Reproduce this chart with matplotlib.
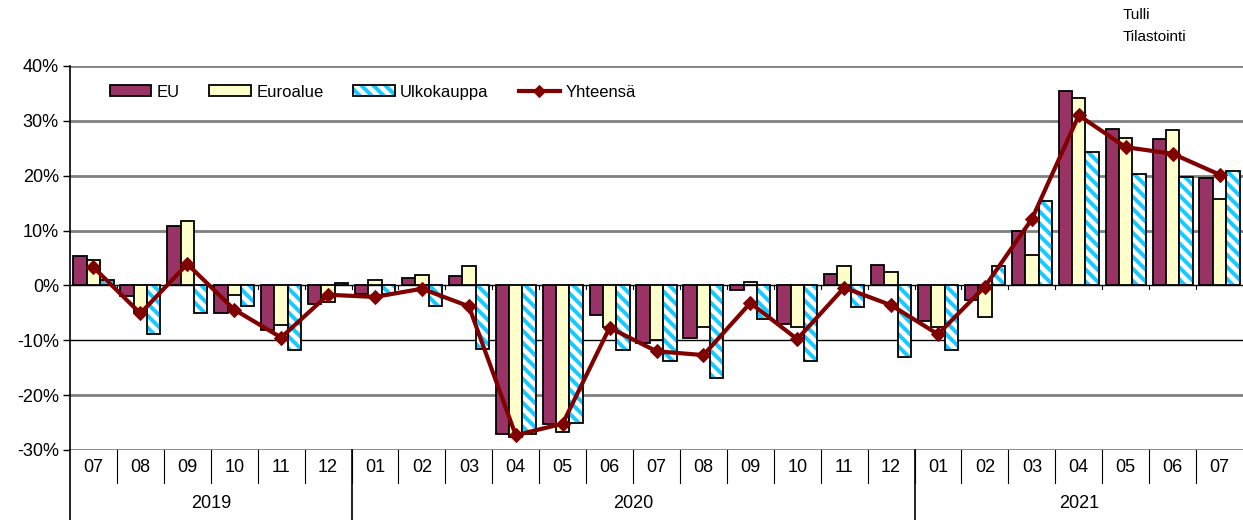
import matplotlib
matplotlib.use("Agg")
import matplotlib.pyplot as plt
import numpy as np
from matplotlib.patches import Patch
from matplotlib.lines import Line2D
from matplotlib.legend_handler import HandlerTuple
import matplotlib.transforms as mtransforms

DPI = 72
S = 100 / DPI  # scale so sizes match a 100-dpi layout

plt.rcParams['font.family'] = ['Liberation Sans', 'DejaVu Sans']
plt.rcParams['hatch.linewidth'] = 4.0

months = ["07", "08", "09", "10", "11", "12",
          "01", "02", "03", "04", "05", "06", "07", "08", "09", "10", "11", "12",
          "01", "02", "03", "04", "05", "06", "07"]
years = ["2019", "2020", "2021"]
year_counts = [6, 12, 7]

eu = [5.3, -1.9, 10.8, -5.0, -8.1, -3.3,
      -1.5, 1.3, 1.7, -27.1, -25.2, -5.3, -10.5, -9.6, -0.9, -7.1, 2.0, 3.8,
      -6.4, -2.6, 10.0, 35.4, 28.6, 26.7, 19.6]
euroalue = [4.7, -5.0, 11.8, -1.7, -7.3, -3.0,
            0.9, 1.9, 3.5, -27.6, -26.7, -7.5, -9.9, -7.6, 0.7, -7.6, 3.5, 2.4,
            -7.5, -5.8, 5.5, 34.1, 26.8, 28.4, 15.8]
ulkokauppa = [0.9, -8.9, -5.0, -3.8, -11.7, 0.4,
              -1.5, -3.8, -11.5, -27.1, -25.1, -11.7, -13.7, -16.8, -6.2, -13.7, -3.9, -13.1,
              -11.8, 3.5, 15.4, 24.4, 20.3, 19.7, 20.8]
yhteensa = [3.3, -5.1, 3.9, -4.4, -9.5, -1.7,
            -2.1, -0.6, -3.8, -27.3, -25.2, -7.7, -12.0, -12.7, -3.2, -9.8, -0.4, -3.6,
            -8.9, -0.2, 12.1, 31.0, 25.2, 24.0, 20.2]

c_eu = '#993366'
c_euro = '#FFFFCC'
c_ulko = '#1EC8FF'
c_line = '#800000'
HATCH = '\\\\'

fig = plt.figure(figsize=(1243 / DPI, 520 / DPI), dpi=DPI)
ax = fig.add_axes([70/1243, 1-450/520, 1173/1243, 384/520])

x = np.arange(len(months))
w = 0.285
blw = 1.3 * S
ax.bar(x - w, eu, w, color=c_eu, edgecolor='black', linewidth=blw, zorder=3)
ax.bar(x, euroalue, w, color=c_euro, edgecolor='black', linewidth=blw, zorder=3)
hb = ax.bar(x + w, ulkokauppa, w, color='white', edgecolor=c_ulko, linewidth=0,
            hatch=HATCH, zorder=3)
for p in hb:
    p._hatch_color = matplotlib.colors.to_rgba(c_ulko)
ax.bar(x + w, ulkokauppa, w, fill=False, edgecolor='black', linewidth=blw, zorder=3.1)

ax.plot(x, yhteensa, color=c_line, linewidth=3 * S, marker='D', markersize=7 * S,
        zorder=5)

ax.set_xlim(-0.5, len(months) - 0.5)
ax.set_ylim(-30, 40)
ax.set_yticks(np.arange(-30, 41, 10))
ax.set_yticklabels([f"{v}%" for v in range(-30, 41, 10)], fontsize=13 * S)
ax.tick_params(axis='y', direction='out', length=5 * S, width=1 * S, pad=3 * S)
ax.set_xticks([])

for v in range(-30, 41, 10):
    if v == 0:
        ax.axhline(v, color='black', linewidth=1 * S, zorder=2)
    elif v == -10:
        ax.axhline(v, color='black', linewidth=1 * S, zorder=1)
    else:
        ax.axhline(v, color='#808080', linewidth=2 * S, zorder=1)

for s in ['top', 'right', 'bottom']:
    ax.spines[s].set_visible(False)
ax.spines['left'].set_linewidth(1.2 * S)

# small tick marks on zero line
for b in np.arange(0.5, len(months) - 1, 1.0):
    ax.plot([b, b], [0, -0.6], color='black', linewidth=0.8 * S, zorder=2)

trans = mtransforms.blended_transform_factory(ax.transData, ax.transAxes)
ax_h = 384
for i, m in enumerate(months):
    ax.text(i, -17/ax_h, m, transform=trans, ha='center', va='center', fontsize=13 * S)
for b in np.arange(0.5, len(months) - 1, 1.0):
    ax.plot([b, b], [0, -33/ax_h], transform=trans, color='black', linewidth=0.8 * S,
            clip_on=False)
start = 0
bounds = [-0.5]
for yl, n in zip(years, year_counts):
    center = start + (n - 1) / 2
    ax.text(center, -53/ax_h, yl, transform=trans, ha='center', va='center',
            fontsize=13 * S)
    start += n
    bounds.append(start - 0.5)
for b in bounds[:-1]:
    ax.plot([b, b], [0, -70/ax_h], transform=trans, color='black', linewidth=1.2 * S,
            clip_on=False)

# legend
h_eu = Patch(facecolor=c_eu, edgecolor='black', linewidth=blw)
h_euro = Patch(facecolor=c_euro, edgecolor='black', linewidth=blw)
h_u1 = Patch(facecolor='white', edgecolor=c_ulko, linewidth=0, hatch=HATCH)
h_u1._hatch_color = matplotlib.colors.to_rgba(c_ulko)
h_u2 = Patch(fill=False, edgecolor='black', linewidth=blw)
h_line = Line2D([], [], color=c_line, linewidth=3 * S, marker='D', markersize=6 * S)
leg = ax.legend([h_eu, h_euro, (h_u1, h_u2), h_line],
                ['EU', 'Euroalue', 'Ulkokauppa', 'Yhteensä'],
                handler_map={tuple: HandlerTuple(ndivide=1)},
                ncol=4, frameon=False, fontsize=12 * S, loc='upper left',
                bbox_to_anchor=(33/1173, 1 - 12/384), handlelength=2.5,
                handleheight=0.6, handletextpad=0.3, columnspacing=1.8,
                borderaxespad=0)

fig.text(1123/1243, 1 - 15/520, 'Tulli', fontsize=11 * S, ha='left', va='center')
fig.text(1123/1243, 1 - 37/520, 'Tilastointi', fontsize=11 * S, ha='left', va='center')

fig.savefig('out.png', dpi=DPI)
